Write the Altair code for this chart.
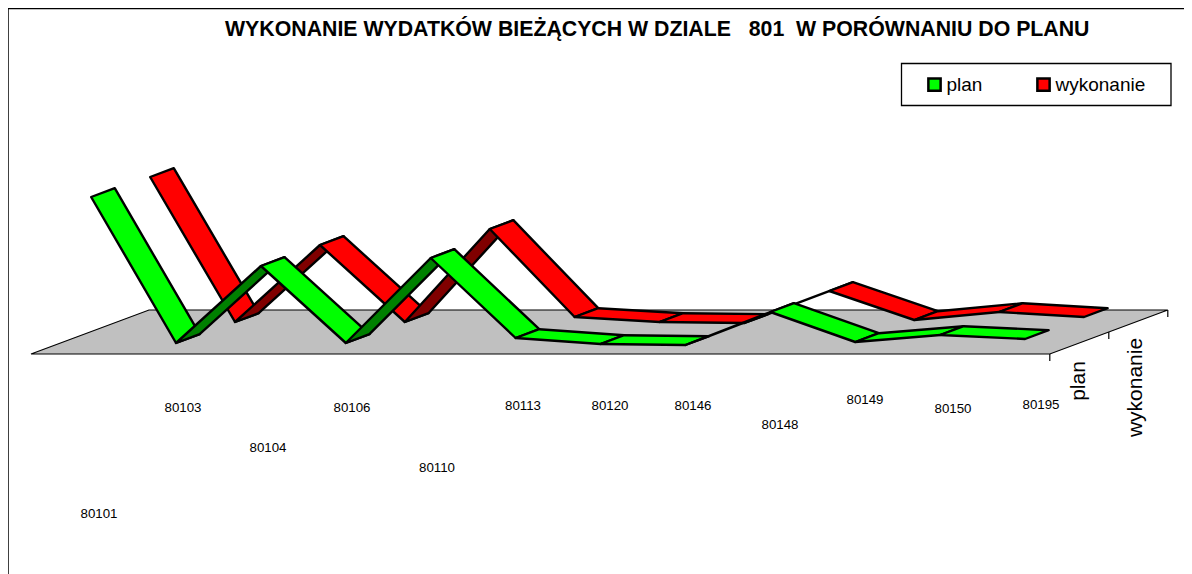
import altair as alt
import pandas as pd

TITLE = "WYKONANIE WYDATKÓW BIEŻĄCYCH W DZIALE \u00a0 801 \u00a0W PORÓWNANIU DO PLANU"
categories = ["80101", "80103", "80104", "80106", "80110", "80113",
              "80120", "80146", "80148", "80149", "80150", "80195"]
plan = [150.4, 4.4, 81.4, 4.4, 89.4, 9.4, 3.4, 2.4, 35.4, 5.4, 12.4, 8.4]
wykonanie = [148.4, 3.4, 80.4, 3.4, 96.4, 8.4, 3.4, 2.4, 34.4, 5.4, 13.4, 8.4]
series_names = ["plan", "wykonanie"]

# page geometry of the oblique 3-D box (pixels in the window)
W, H = 1176, 566
X0, Y0 = 31, 354
STEP = 84.9
DX, DY = 59.0, 22.0      # one series of depth on screen
RIB = (0.3, 0.7)         # ribbon extent inside a series slot

def U(i, depth):
    return i + DX / STEP * depth

def V(v, depth):
    return v + DY * depth

x_scale = alt.Scale(domain=[(8 - X0) / STEP, (8 + W - X0) / STEP], nice=False, zero=False)
y_scale = alt.Scale(domain=[Y0 - 8 - H, Y0 - 8], nice=False, zero=False)

rows = []
pid = 0
def add(face, pts):
    global pid
    for k, (u, v) in enumerate(pts):
        rows.append({"poly": pid, "k": k, "u": u, "v": v, "face": face})
    pid += 1

for s in (1, 0):
    vals = [plan, wykonanie][s]
    name = series_names[s]
    d0, d1 = s + RIB[0], s + RIB[1]
    for i in range(len(vals) - 1):
        a, b = i + 0.5, i + 1.5
        # rising faster than the depth direction: the underside shows
        seg = (vals[i + 1] - vals[i]) / STEP
        under = seg > DY / DX
        pts = [(U(a, d0), V(vals[i], d0)), (U(b, d0), V(vals[i + 1], d0)),
               (U(b, d1), V(vals[i + 1], d1)), (U(a, d1), V(vals[i], d1))]
        add(name + " spód" if under else name, pts)
ribbons = pd.DataFrame(rows)

base_x = alt.X("u:Q", scale=x_scale, axis=None)
base_y = alt.Y("v:Q", scale=y_scale, axis=None)

floor = pd.DataFrame({
    "u": [U(0, 0), U(12, 0), U(12, 2), U(0, 2)],
    "v": [V(0, 0), V(0, 0), V(0, 2), V(0, 2)],
    "k": [0, 1, 2, 3],
})
floor_layer = alt.Chart(floor).mark_line(
    interpolate="linear-closed", fill="#C0C0C0", stroke="black", strokeWidth=1.2
).encode(x=base_x, y=base_y, order="k:Q")

ticks = pd.DataFrame({"u": [U(12, d) for d in (0, 1, 2)],
                      "v": [V(0, d) for d in (0, 1, 2)],
                      "v2": [V(0, d) - 7 for d in (0, 1, 2)]})
tick_layer = alt.Chart(ticks).mark_rule(color="black", strokeWidth=1.2).encode(
    x=base_x, y=base_y, y2="v2:Q")

ribbon_layer = alt.Chart(ribbons).mark_line(
    interpolate="linear-closed", stroke="black", strokeWidth=2.4, strokeJoin="round", filled=True
).encode(
    x=base_x, y=base_y, order="k:Q", detail="poly:N",
    fill=alt.Fill("face:N",
        scale=alt.Scale(domain=["plan", "wykonanie", "plan spód", "wykonanie spód"],
                        range=["#00FF00", "#FF0000", "#008000", "#800000"]),
        legend=alt.Legend(values=["plan", "wykonanie"], title=None, orient="none",
                          legendX=917, legendY=67, direction="horizontal",
                          symbolType="square", symbolSize=150, symbolStrokeColor="black",
                          symbolStrokeWidth=2.5, symbolFillColor="#00FF00",
                          labelFont="Liberation Sans", labelFontSize=19, labelColor="black",
                          columnPadding=49, labelOffset=2.5, padding=0)),
)

# category labels sit at staggered heights, as in the source picture
cat_x = [99, 183, 268, 352, 437, 523, 610, 693, 780, 865, 953, 1041]
cat_y = [514, 408, 448, 408, 468, 406, 406, 406, 425, 400, 409, 405]
cat_df = pd.DataFrame({"label": categories,
                       "u": [(x - X0) / STEP for x in cat_x],
                       "v": [Y0 - y for y in cat_y]})
cat_layer = alt.Chart(cat_df).mark_text(
    font="Liberation Sans", fontSize=13.3, color="black", baseline="middle", align="center"
).encode(x=base_x, y=base_y, text="label:N")

ser_df = pd.DataFrame({"label": series_names,
                       "u": [(1079 - X0) / STEP, (1136 - X0) / STEP],
                       "v": [Y0 - 381, Y0 - 387.5]})
ser_layer = alt.Chart(ser_df).mark_text(
    font="Liberation Sans", fontSize=21, color="black", angle=270, baseline="middle", align="center"
).encode(x=base_x, y=base_y, text="label:N")

dummy = pd.DataFrame({"a": [0]})
frame_top = alt.Chart(dummy).mark_rule(color="black", strokeWidth=1.5).encode(
    x=alt.value(0), x2=alt.value(W), y=alt.value(0.5))
frame_left = alt.Chart(dummy).mark_rule(color="black", strokeWidth=1.5).encode(
    x=alt.value(0), y=alt.value(0), y2=alt.value(H))
legend_box = alt.Chart(dummy).mark_rect(fill="white", stroke="black", strokeWidth=1.3).encode(
    x=alt.value(893.5), x2=alt.value(1163), y=alt.value(55.5), y2=alt.value(97.5))

chart = alt.layer(
    frame_top, frame_left, legend_box, floor_layer, tick_layer, ribbon_layer, cat_layer, ser_layer
).resolve_scale(x="shared", y="shared").properties(
    width=W, height=H, padding=0, autosize=alt.AutoSizeParams(type="none"),
    title=alt.TitleParams(TITLE, font="Liberation Sans", fontSize=21.3, fontWeight="bold", color="black",
                          anchor="start", frame="group", dx=217, dy=54, baseline="alphabetic"),
).configure_view(stroke=None)

chart.save("out.html", embed_options={"renderer": "svg", "actions": False})
